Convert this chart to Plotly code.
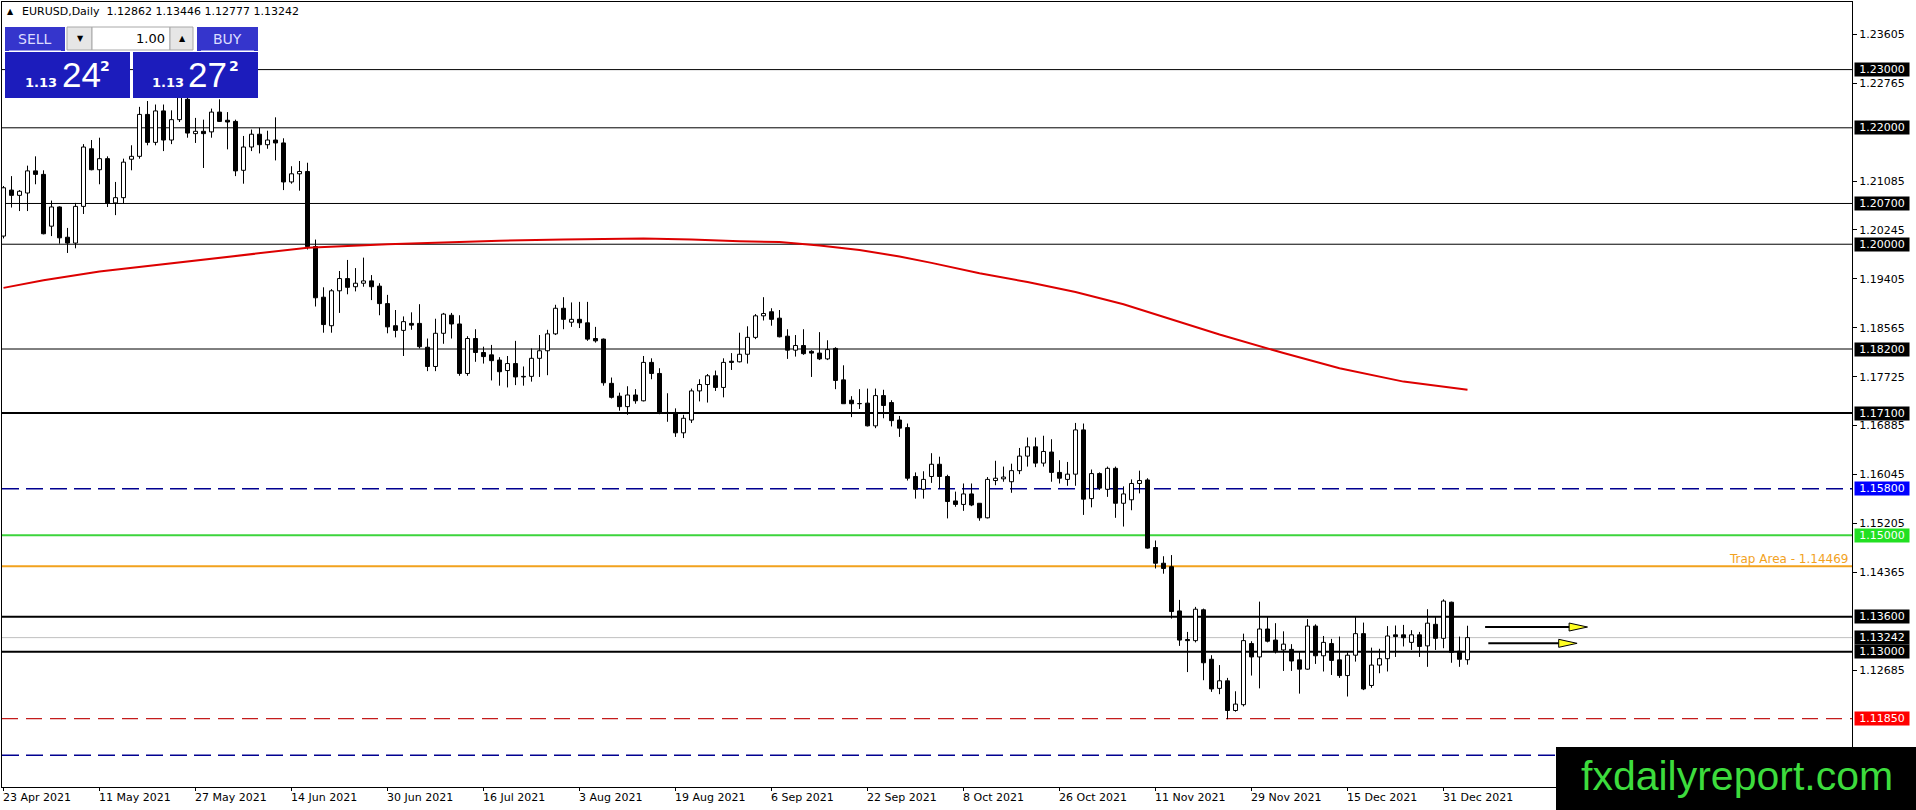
import plotly.graph_objects as go

# ---------------- data ----------------
date_labels = ["23 Apr 2021", "11 May 2021", "27 May 2021", "14 Jun 2021",
               "30 Jun 2021", "16 Jul 2021", "3 Aug 2021", "19 Aug 2021",
               "6 Sep 2021", "22 Sep 2021", "8 Oct 2021", "26 Oct 2021",
               "11 Nov 2021", "29 Nov 2021", "15 Dec 2021", "31 Dec 2021"]
date_label_bars = [0, 12, 24, 36, 48, 60, 72, 84, 96, 108, 120, 132, 144, 156, 168, 180]

opens = [1.2014, 1.2093, 1.2084, 1.2088, 1.2126, 1.2120, 1.2031, 1.2064, 1.2012, 1.2002,
         1.2065, 1.2164, 1.2128, 1.2147, 1.2071, 1.2080, 1.2146, 1.2151, 1.2223, 1.2175,
         1.2229, 1.2179, 1.2214, 1.2249, 1.2190, 1.2194, 1.2193, 1.2227, 1.2213, 1.2211,
         1.2127, 1.2167, 1.2189, 1.2171, 1.2179, 1.2174, 1.2107, 1.2121, 1.2125, 1.1996,
         1.1909, 1.1860, 1.1920, 1.1941, 1.1927, 1.1933, 1.1937, 1.1928, 1.1898, 1.1860,
         1.1852, 1.1864, 1.1864, 1.1823, 1.1790, 1.1847, 1.1878, 1.1863, 1.1778, 1.1838,
         1.1814, 1.1810, 1.1801, 1.1783, 1.1795, 1.1773, 1.1773, 1.1804, 1.1817, 1.1846,
         1.1890, 1.1866, 1.1871, 1.1865, 1.1838, 1.1837, 1.1761, 1.1739, 1.1721, 1.1741,
         1.1731, 1.1797, 1.1778, 1.1711, 1.1711, 1.1676, 1.1698, 1.1748, 1.1759, 1.1774,
         1.1754, 1.1799, 1.1798, 1.1811, 1.1840, 1.1877, 1.1884, 1.1873, 1.1842, 1.1818,
         1.1826, 1.1816, 1.1813, 1.1803, 1.1821, 1.1767, 1.1732, 1.1726, 1.1727, 1.1688,
         1.1740, 1.1728, 1.1698, 1.1685, 1.1601, 1.1579, 1.1601, 1.1622, 1.1601, 1.1559,
         1.1553, 1.1571, 1.1555, 1.1530, 1.1594, 1.1597, 1.1592, 1.1611, 1.1636, 1.1652,
         1.1624, 1.1643, 1.1608, 1.1596, 1.1605, 1.1681, 1.1563, 1.1606, 1.1579, 1.1615,
         1.1555, 1.1561, 1.1589, 1.1595, 1.1479, 1.1452, 1.1446, 1.1370, 1.1321, 1.1319,
         1.1372, 1.1287, 1.1237, 1.1250, 1.1199, 1.1209, 1.1314, 1.1291, 1.1339, 1.1320,
         1.1303, 1.1304, 1.1286, 1.1270, 1.1344, 1.1293, 1.1314, 1.1286, 1.1259, 1.1294,
         1.1331, 1.1242, 1.1277, 1.1288, 1.1329, 1.1329, 1.1316, 1.1329, 1.1310, 1.1347,
         1.1323, 1.1385, 1.1301, 1.12862]
highs = [1.2100, 1.2117, 1.2093, 1.2135, 1.2151, 1.2127, 1.2075, 1.2065, 1.2028, 1.2071,
         1.2172, 1.2179, 1.2183, 1.2151, 1.2107, 1.2147, 1.2170, 1.2236, 1.2246, 1.2240,
         1.2240, 1.2230, 1.2266, 1.2252, 1.2217, 1.2214, 1.2233, 1.2249, 1.2227, 1.2214,
         1.2186, 1.2197, 1.2200, 1.2195, 1.2218, 1.2182, 1.2134, 1.2143, 1.2140, 1.2008,
         1.1926, 1.1923, 1.1954, 1.1973, 1.1959, 1.1977, 1.1947, 1.1933, 1.1913, 1.1887,
         1.1876, 1.1883, 1.1897, 1.1838, 1.1872, 1.1882, 1.1882, 1.1878, 1.1842, 1.1854,
         1.1824, 1.1827, 1.1806, 1.1808, 1.1834, 1.1790, 1.1821, 1.1844, 1.1853, 1.1896,
         1.1909, 1.1900, 1.1901, 1.1901, 1.1858, 1.1838, 1.1771, 1.1745, 1.1756, 1.1751,
         1.1808, 1.1804, 1.1787, 1.1744, 1.1718, 1.1707, 1.1752, 1.1768, 1.1777, 1.1783,
         1.1804, 1.1813, 1.1848, 1.1859, 1.1880, 1.1909, 1.1890, 1.1887, 1.1854, 1.1844,
         1.1854, 1.1818, 1.1849, 1.1835, 1.1823, 1.1792, 1.1739, 1.1751, 1.1752, 1.1752,
         1.1750, 1.1732, 1.1705, 1.1692, 1.1608, 1.1610, 1.1641, 1.1635, 1.1604, 1.1575,
         1.1589, 1.1589, 1.1555, 1.1600, 1.1628, 1.1618, 1.1623, 1.1650, 1.1668, 1.1668,
         1.1671, 1.1665, 1.1629, 1.1626, 1.1693, 1.1692, 1.1613, 1.1608, 1.1618, 1.1618,
         1.1584, 1.1596, 1.1611, 1.1598, 1.1491, 1.1464, 1.1466, 1.1389, 1.1334, 1.1377,
         1.1374, 1.1294, 1.1277, 1.1255, 1.1232, 1.1331, 1.1318, 1.1386, 1.1360, 1.1349,
         1.1335, 1.1313, 1.1301, 1.1356, 1.1347, 1.1327, 1.1322, 1.1326, 1.1299, 1.1360,
         1.1350, 1.1307, 1.1305, 1.1344, 1.1345, 1.1346, 1.1337, 1.1334, 1.1373, 1.1360,
         1.1390, 1.1386, 1.1326, 1.13446]
lows = [1.2010, 1.2063, 1.2057, 1.2057, 1.2103, 1.2017, 1.2014, 1.2001, 1.1985, 1.1993,
        1.2052, 1.2127, 1.2103, 1.2064, 1.2050, 1.2070, 1.2127, 1.2147, 1.2170, 1.2170,
        1.2160, 1.2172, 1.2210, 1.2183, 1.2174, 1.2131, 1.2183, 1.2210, 1.2163, 1.2117,
        1.2104, 1.2160, 1.2156, 1.2164, 1.2144, 1.2093, 1.2104, 1.2092, 1.1991, 1.1893,
        1.1848, 1.1848, 1.1882, 1.1914, 1.1919, 1.1927, 1.1904, 1.1878, 1.1847, 1.1840,
        1.1808, 1.1853, 1.1821, 1.1782, 1.1782, 1.1829, 1.1838, 1.1774, 1.1774, 1.1798,
        1.1795, 1.1766, 1.1757, 1.1754, 1.1758, 1.1757, 1.1764, 1.1772, 1.1775, 1.1844,
        1.1854, 1.1858, 1.1856, 1.1834, 1.1831, 1.1757, 1.1735, 1.1714, 1.1707, 1.1726,
        1.1730, 1.1768, 1.1708, 1.1695, 1.1669, 1.1667, 1.1693, 1.1730, 1.1728, 1.1748,
        1.1737, 1.1784, 1.1797, 1.1795, 1.1837, 1.1869, 1.1860, 1.1840, 1.1803, 1.1807,
        1.1810, 1.1772, 1.1801, 1.1801, 1.1751, 1.1726, 1.1703, 1.1717, 1.1687, 1.1684,
        1.1701, 1.1687, 1.1669, 1.1594, 1.1563, 1.1563, 1.1590, 1.1580, 1.1529, 1.1549,
        1.1542, 1.1550, 1.1525, 1.1529, 1.1586, 1.1592, 1.1573, 1.1605, 1.1618, 1.1617,
        1.1618, 1.1592, 1.1589, 1.1585, 1.1585, 1.1535, 1.1548, 1.1578, 1.1566, 1.1530,
        1.1515, 1.1543, 1.1572, 1.1477, 1.1443, 1.1434, 1.1357, 1.1310, 1.1265, 1.1316,
        1.1251, 1.1231, 1.1227, 1.1184, 1.1197, 1.1206, 1.1259, 1.1237, 1.1316, 1.1297,
        1.1267, 1.1267, 1.1228, 1.1269, 1.1279, 1.1266, 1.1260, 1.1255, 1.1223, 1.1283,
        1.1234, 1.1238, 1.1263, 1.1266, 1.1291, 1.1309, 1.1303, 1.1291, 1.1274, 1.1303,
        1.1306, 1.1281, 1.1274, 1.12777]
closes = [1.2097, 1.2084, 1.2091, 1.2126, 1.2120, 1.2018, 1.2064, 1.2011, 1.2002, 1.2065,
          1.2167, 1.2128, 1.2147, 1.2070, 1.2080, 1.2141, 1.2151, 1.2223, 1.2175, 1.2229,
          1.2179, 1.2214, 1.2252, 1.2191, 1.2194, 1.2190, 1.2227, 1.2211, 1.2210, 1.2126,
          1.2167, 1.2189, 1.2171, 1.2179, 1.2174, 1.2107, 1.2121, 1.2125, 1.1996, 1.1908,
          1.1862, 1.1920, 1.1941, 1.1926, 1.1933, 1.1937, 1.1927, 1.1898, 1.1858, 1.1852,
          1.1867, 1.1861, 1.1824, 1.1790, 1.1847, 1.1880, 1.1863, 1.1778, 1.1838, 1.1814,
          1.1807, 1.1800, 1.1781, 1.1795, 1.1772, 1.1772, 1.1804, 1.1817, 1.1846, 1.1890,
          1.1871, 1.1871, 1.1865, 1.1837, 1.1834, 1.1762, 1.1737, 1.1721, 1.1741, 1.1731,
          1.1797, 1.1778, 1.1711, 1.1710, 1.1676, 1.1701, 1.1748, 1.1759, 1.1774, 1.1754,
          1.1797, 1.1797, 1.1811, 1.1840, 1.1877, 1.1881, 1.1871, 1.1841, 1.1818, 1.1826,
          1.1812, 1.1813, 1.1803, 1.1819, 1.1766, 1.1726, 1.1726, 1.1726, 1.1688, 1.1740,
          1.1723, 1.1697, 1.1684, 1.1598, 1.1579, 1.1596, 1.1622, 1.1601, 1.1558, 1.1553,
          1.1571, 1.1552, 1.1530, 1.1596, 1.1598, 1.1600, 1.1611, 1.1636, 1.1652, 1.1624,
          1.1644, 1.1608, 1.1598, 1.1605, 1.1681, 1.1562, 1.1606, 1.1581, 1.1615, 1.1555,
          1.1571, 1.1589, 1.1594, 1.1478, 1.1452, 1.1443, 1.1369, 1.1320, 1.1319, 1.1373,
          1.1281, 1.1236, 1.1250, 1.1199, 1.1210, 1.1319, 1.1291, 1.1339, 1.1318, 1.1300,
          1.1313, 1.1284, 1.1270, 1.1344, 1.1293, 1.1316, 1.1285, 1.1259, 1.1294, 1.1331,
          1.1236, 1.1277, 1.1288, 1.1327, 1.1326, 1.1324, 1.1329, 1.1309, 1.1349, 1.1323,
          1.1387, 1.1299, 1.1287, 1.13242]

# moving average, read at a few bars
ma_bars = [0, 5, 12, 20, 26, 32, 38, 48, 62, 70, 80, 86, 92, 97, 102, 107, 112, 116,
           122, 128, 134, 140, 145, 152, 160, 167, 175, 183]
ma_values = [1.1925, 1.1938, 1.1953, 1.1966, 1.1975, 1.1985, 1.1994, 1.2000, 1.2006,
             1.2008, 1.2010, 1.2008, 1.2005, 1.2004, 1.1998, 1.1990, 1.1979, 1.1968,
             1.1950, 1.1935, 1.1918, 1.1897, 1.1875, 1.1845, 1.1813, 1.1787, 1.1764, 1.1750]

price_ticks = [1.23605, 1.22765, 1.21085, 1.20245, 1.19405, 1.18565, 1.17725,
               1.16885, 1.16045, 1.15205, 1.14365, 1.12685]

# horizontal levels drawn on the chart
level_prices = [1.23, 1.22, 1.207, 1.20, 1.182, 1.171, 1.158, 1.15, 1.14469,
                1.136, 1.13242, 1.13, 1.1185, 1.1122]
boxed_prices = [1.23, 1.22, 1.207, 1.20, 1.182, 1.171, 1.158, 1.15,
                1.136, 1.13242, 1.13, 1.1185]
trap_price = 1.14469
arrow_prices = [1.13424, 1.13144]

header = "EURUSD,Daily  1.12862 1.13446 1.12777 1.13242"

# ---------------- styles / geometry ----------------
W, H = 1916, 810
L, R, T, B = 2, 64, 2, 23
PW, PH = W - L - R, H - T - B
BAR_PX = 8.0
FONT = "DejaVu Sans"


def fx(px):
    return (px - L) / PW


def fy(py):
    return 1 - (py - T) / PH


level_styles = [
    dict(color="black", width=1), dict(color="black", width=1),
    dict(color="black", width=1), dict(color="black", width=1),
    dict(color="black", width=1), dict(color="black", width=2),
    dict(color="#000090", width=1.5, dash="17px,7px"),
    dict(color="#3cd43c", width=2), dict(color="#f2a21e", width=2),
    dict(color="black", width=2), dict(color="#c0c0c0", width=1),
    dict(color="black", width=2),
    dict(color="#c41c1c", width=1.3, dash="16px,8px"),
    dict(color="#000090", width=1.5, dash="17px,7px"),
]
box_colors = ["black", "black", "black", "black", "black", "black", "#0000ff",
              "#22e022", "black", "black", "black", "#ff0000"]

bars = list(range(len(opens)))
body_low = [min(o, c) for o, c in zip(opens, closes)]
body_top = [max(o, c) for o, c in zip(opens, closes)]
body_h = [max(t - b, 0.00004) for t, b in zip(body_top, body_low)]
body_col = ["white" if c >= o else "black" for o, c in zip(opens, closes)]

# wicks drawn only outside the body so white bodies stay clean
wick_x, wick_y = [], []
for i, h, l, bl, bt in zip(bars, highs, lows, body_low, body_top):
    wick_x += [i, i, None, i, i, None]
    wick_y += [l, bl, None, bt, h, None]

fig = go.Figure()
fig.add_trace(go.Scatter(x=wick_x, y=wick_y, mode="lines",
                         line=dict(color="black", width=1), hoverinfo="skip"))
fig.add_trace(go.Bar(x=bars, y=body_h, base=body_low, width=0.5,
                     marker=dict(color=body_col, line=dict(color="black", width=1)),
                     hoverinfo="skip"))
fig.add_trace(go.Scatter(x=ma_bars, y=ma_values, mode="lines",
                         line=dict(color="#dd0000", width=2), hoverinfo="skip"))

shapes = []
for p, st in zip(level_prices, level_styles):
    shapes.append(dict(type="line", xref="paper", x0=0, x1=1, yref="y", y0=p, y1=p,
                       line=st, layer="below"))

# analyst arrows (line + yellow head)
arrow_start = [185.2, 185.6]
arrow_tip = [198.0, 196.7]
for p, s, t in zip(arrow_prices, arrow_start, arrow_tip):
    hw = 4 / 5821
    shapes.append(dict(type="line", xref="x", yref="y", x0=s, x1=t - 1.5, y0=p, y1=p,
                       line=dict(color="black", width=2)))
    shapes.append(dict(type="path", xref="x", yref="y",
                       path=f"M {t - 2.3},{p + hw} L {t},{p} L {t - 2.3},{p - hw} Z",
                       fillcolor="#ffff22", line=dict(color="black", width=1)))


def rect(x0, y0, x1, y1, fill, line=None):
    return dict(type="rect", xref="paper", yref="paper",
                x0=fx(x0), x1=fx(x1), y0=fy(y1), y1=fy(y0), fillcolor=fill,
                line=line or dict(width=0), layer="above")


# one-click trading panel
shapes += [
    rect(5, 27, 65, 51, "#3535cc"),
    rect(197, 27, 258, 51, "#3535cc"),
    rect(5, 52, 130, 98, "#1c1cbc"),
    rect(133, 52, 258, 98, "#1c1cbc"),
    rect(67, 27, 92, 50, "#e6e6e6", dict(color="#a8a8a8", width=1)),
    rect(92, 27, 170, 50, "white", dict(color="#a8a8a8", width=1)),
    rect(170, 27, 193, 50, "#e6e6e6", dict(color="#a8a8a8", width=1)),
    rect(9, 50, 61, 51, "#9a9ae6"),
    rect(201, 50, 254, 51, "#9a9ae6"),
    # watermark
    rect(1556, 747, 1916, 810, "black"),
]

ann = []


def text(x, y, s, size, color="black", family=FONT, xanchor="center", bold=False):
    ann.append(dict(xref="paper", yref="paper", x=fx(x), y=fy(y), text=f"<b>{s}</b>" if bold else s,
                    showarrow=False, xanchor=xanchor, yanchor="middle",
                    font=dict(size=size, color=color, family=family)))


text(10, 12, "▲", 8)
text(20, 12, header, 11, xanchor="left")
text(35, 39, "SELL", 14, "#dcdcff")
text(227, 39, "BUY", 14, "#dcdcff")
text(167, 39, "1.00", 13, xanchor="right")
text(80, 39, "▼", 8)
text(182, 39, "▲", 8)
text(41, 83, "1.13", 13, "white", bold=True)
text(81, 75, "24", 35, "white", family="Liberation Sans")
text(105, 66, "2", 14, "white", bold=True)
text(168, 83, "1.13", 13, "white", bold=True)
text(207, 75, "27", 35, "white", family="Liberation Sans")
text(234, 66, "2", 14, "white", bold=True)
text(1737, 776, "fxdailyreport.com", 41, "#3ddc3d", family="Liberation Sans")

for p, c in zip(boxed_prices, box_colors):
    ann.append(dict(xref="paper", x=1, xshift=2, xanchor="left", yref="y", y=p,
                    yanchor="middle", text=f"{p:.5f}", showarrow=False,
                    width=54, height=13, bgcolor=c, borderpad=0,
                    font=dict(size=11, color="white", family=FONT)))

ann.append(dict(xref="paper", x=1, xanchor="right", xshift=-2, yref="y", y=trap_price,
                yanchor="bottom", yshift=-2, text=f"Trap Area - {trap_price:.5f}",
                showarrow=False, font=dict(size=12, color="#f2a21e", family=FONT)))

for b, lab in zip(date_label_bars, date_labels):
    ann.append(dict(xref="x", x=b, xanchor="left", xshift=-3, yref="paper", y=fy(789),
                    yanchor="top", text=lab, showarrow=False,
                    font=dict(size=11, color="black", family=FONT)))

# bar centres land on half pixels so candle outlines and wicks stay crisp
x0 = -(3.5 - L) / BAR_PX
y_top = 1.23 + (69.6 - T) / 5821
y_bot = 1.23 - (H - B - 69.6) / 5821

fig.update_layout(
    width=W, height=H,
    margin=dict(l=L, r=R, t=T, b=B),
    paper_bgcolor="white", plot_bgcolor="white",
    showlegend=False,
    shapes=shapes, annotations=ann,
    xaxis=dict(range=[x0, x0 + PW / BAR_PX], tickvals=date_label_bars,
               showticklabels=False, ticks="outside", ticklen=3, tickcolor="black",
               showgrid=False, zeroline=False, showline=True, mirror=True,
               linecolor="black", linewidth=1, fixedrange=True),
    yaxis=dict(range=[y_bot, y_top], side="right", tickvals=price_ticks,
               tickformat=".5f", ticks="outside", ticklen=4, tickcolor="black",
               tickfont=dict(size=11, color="black", family=FONT),
               showgrid=False, zeroline=False, showline=True, mirror=True,
               linecolor="black", linewidth=1, fixedrange=True),
)

# page body margin off so the chart sits at the window's top-left corner
fig.write_html("out.html", config={"displayModeBar": False},
               post_script="document.body.style.margin='0';document.body.style.overflow='hidden';")
